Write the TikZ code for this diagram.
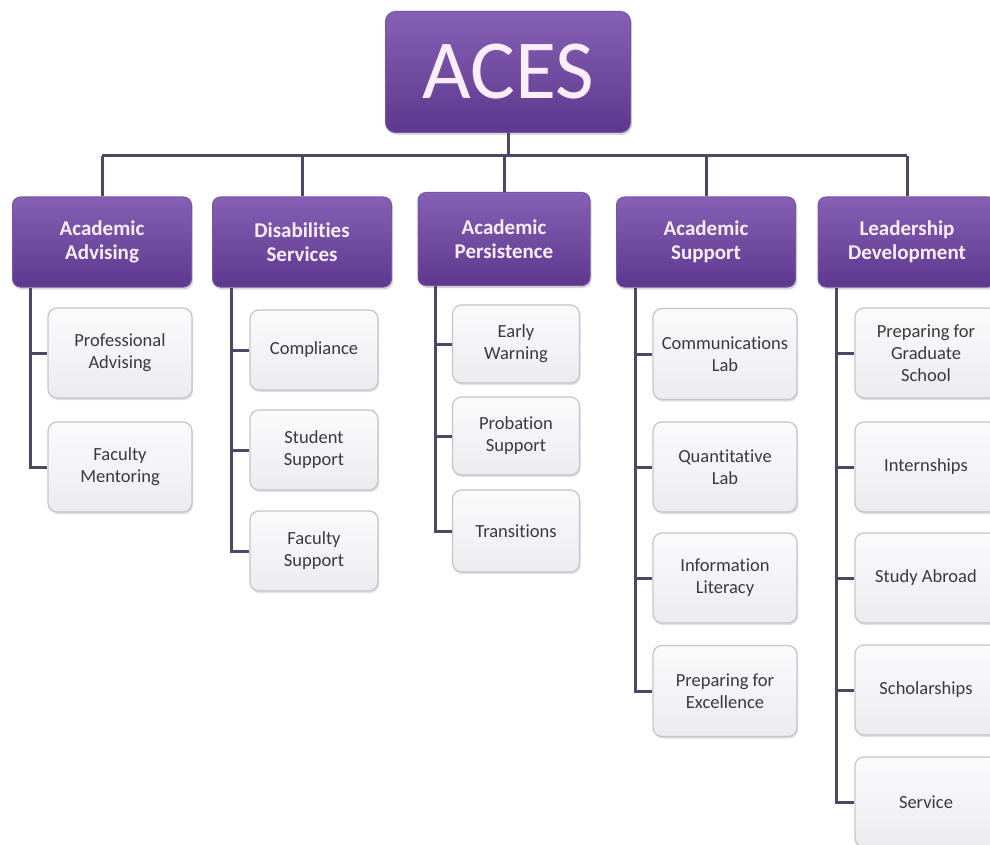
\documentclass[tikz,border=0pt]{standalone}
\usepackage{fontspec}
\setmainfont{Carlito}[Ligatures=NoCommon]
\usetikzlibrary{shadows}
\definecolor{purpTop}{RGB}{134,96,180}
\definecolor{purpBot}{RGB}{94,56,142}
\definecolor{purpEdge}{RGB}{118,84,166}
\definecolor{connc}{RGB}{78,70,104}
\definecolor{subTop}{RGB}{251,251,252}
\definecolor{subBot}{RGB}{236,236,240}
\definecolor{subEdge}{RGB}{196,196,204}
\definecolor{subText}{RGB}{58,58,62}
\definecolor{headText}{RGB}{250,238,250}
\tikzset{
  topbox/.style={rounded corners=10pt, top color=purpTop, bottom color=purpBot,
    draw=purpEdge, line width=1pt, text=headText, inner sep=0pt,
    font=\fontsize{84}{84}\selectfont,
    drop shadow={opacity=0.3, shadow xshift=1.5pt, shadow yshift=-2.5pt}},
  headbox/.style={rounded corners=8pt, top color=purpTop, bottom color=purpBot,
    draw=purpEdge, line width=1pt, text=headText, inner sep=0pt, align=center,
    font=\fontsize{21}{23.5}\selectfont\bfseries,
    drop shadow={opacity=0.3, shadow xshift=1.5pt, shadow yshift=-2.5pt}},
  subbox/.style={rounded corners=9pt, top color=subTop, bottom color=subBot,
    draw=subEdge, line width=1.2pt, text=subText, inner sep=0pt, align=center,
    font=\fontsize{18.5}{22}\selectfont,
    drop shadow={opacity=0.25, shadow xshift=1pt, shadow yshift=-2pt}},
  conn/.style={draw=connc, line width=3pt}
}
\begin{document}
\begin{tikzpicture}[x=1pt,y=-1pt]
\clip (0,0) rectangle (990,845);
\fill[white] (0,0) rectangle (990,845);

% top
\node[topbox, minimum width=245pt, minimum height=121pt] (aces) at (508,72) {ACES};

% level 2
\node[headbox, minimum width=179pt, minimum height=90pt] (aa) at (102,242) {Academic\\Advising};
\node[headbox, minimum width=179pt, minimum height=90pt] (ds) at (302,242) {Disabilities\\Services};
\node[headbox, minimum width=172pt, minimum height=93pt] (ap) at (504,239) {Academic\\Persistence};
\node[headbox, minimum width=179pt, minimum height=90pt] (as) at (706,242) {Academic\\Support};
\node[headbox, minimum width=178pt, minimum height=90pt] (ld) at (907,242) {Leadership\\Development};

% level 3: Academic Advising
\node[subbox, minimum width=144pt, minimum height=90pt] (pa) at (120,353) {Professional\\Advising};
\node[subbox, minimum width=144pt, minimum height=90pt] (fm) at (120,467) {Faculty\\Mentoring};
% Disabilities Services
\node[subbox, minimum width=128pt, minimum height=80pt] (co) at (314,350) {Compliance};
\node[subbox, minimum width=128pt, minimum height=80pt] (ss) at (314,450) {Student\\Support};
\node[subbox, minimum width=128pt, minimum height=80pt] (fs) at (314,551) {Faculty\\Support};
% Academic Persistence
\node[subbox, minimum width=127pt, minimum height=78pt] (ew) at (516,344) {Early\\Warning};
\node[subbox, minimum width=127pt, minimum height=78pt] (ps) at (516,436) {Probation\\Support};
\node[subbox, minimum width=127pt, minimum height=82pt] (tr) at (516,531) {Transitions};
% Academic Support
\node[subbox, minimum width=144pt, minimum height=91pt] (cl) at (725,354) {Communications\\Lab};
\node[subbox, minimum width=144pt, minimum height=90pt] (ql) at (725,467) {Quantitative\\Lab};
\node[subbox, minimum width=144pt, minimum height=90pt] (il) at (725,578) {Information\\Literacy};
\node[subbox, minimum width=144pt, minimum height=91pt] (pe) at (725,691) {Preparing for\\Excellence};
% Leadership Development
\node[subbox, minimum width=142pt, minimum height=90pt] (pg) at (926,353) {Preparing for\\Graduate\\School};
\node[subbox, minimum width=142pt, minimum height=90pt] (in) at (926,467) {Internships};
\node[subbox, minimum width=142pt, minimum height=90pt] (sa) at (926,578) {Study Abroad};
\node[subbox, minimum width=142pt, minimum height=90pt] (sc) at (926,690) {Scholarships};
\node[subbox, minimum width=142pt, minimum height=90pt] (se) at (926,802) {Service};

% bus
\coordinate (bus) at (508,156);
\draw[conn] (aces.south) -- (bus);
\draw[conn] (aa.north |- bus) -- (ld.north |- bus);
\foreach \n in {aa,ds,ap,as,ld} { \draw[conn] (\n.north |- bus) -- (\n.north); }

% trunks
\coordinate (aaT) at ([xshift=18pt]aa.south west);
\coordinate (dsT) at ([xshift=19pt]ds.south west);
\coordinate (apT) at ([xshift=18pt]ap.south west);
\coordinate (asT) at ([xshift=19pt]as.south west);
\coordinate (ldT) at ([xshift=19pt]ld.south west);

\draw[conn] (aaT) |- (fm.west);
\draw[conn] (aaT |- pa.west) -- (pa.west);

\draw[conn] (dsT) |- (fs.west);
\foreach \c in {co,ss} { \draw[conn] (dsT |- \c.west) -- (\c.west); }

\draw[conn] (apT) |- (tr.west);
\foreach \c in {ew,ps} { \draw[conn] (apT |- \c.west) -- (\c.west); }

\draw[conn] (asT) |- (pe.west);
\foreach \c in {cl,ql,il} { \draw[conn] (asT |- \c.west) -- (\c.west); }

\draw[conn] (ldT) |- (se.west);
\foreach \c in {pg,in,sa,sc} { \draw[conn] (ldT |- \c.west) -- (\c.west); }
\end{tikzpicture}
\end{document}
